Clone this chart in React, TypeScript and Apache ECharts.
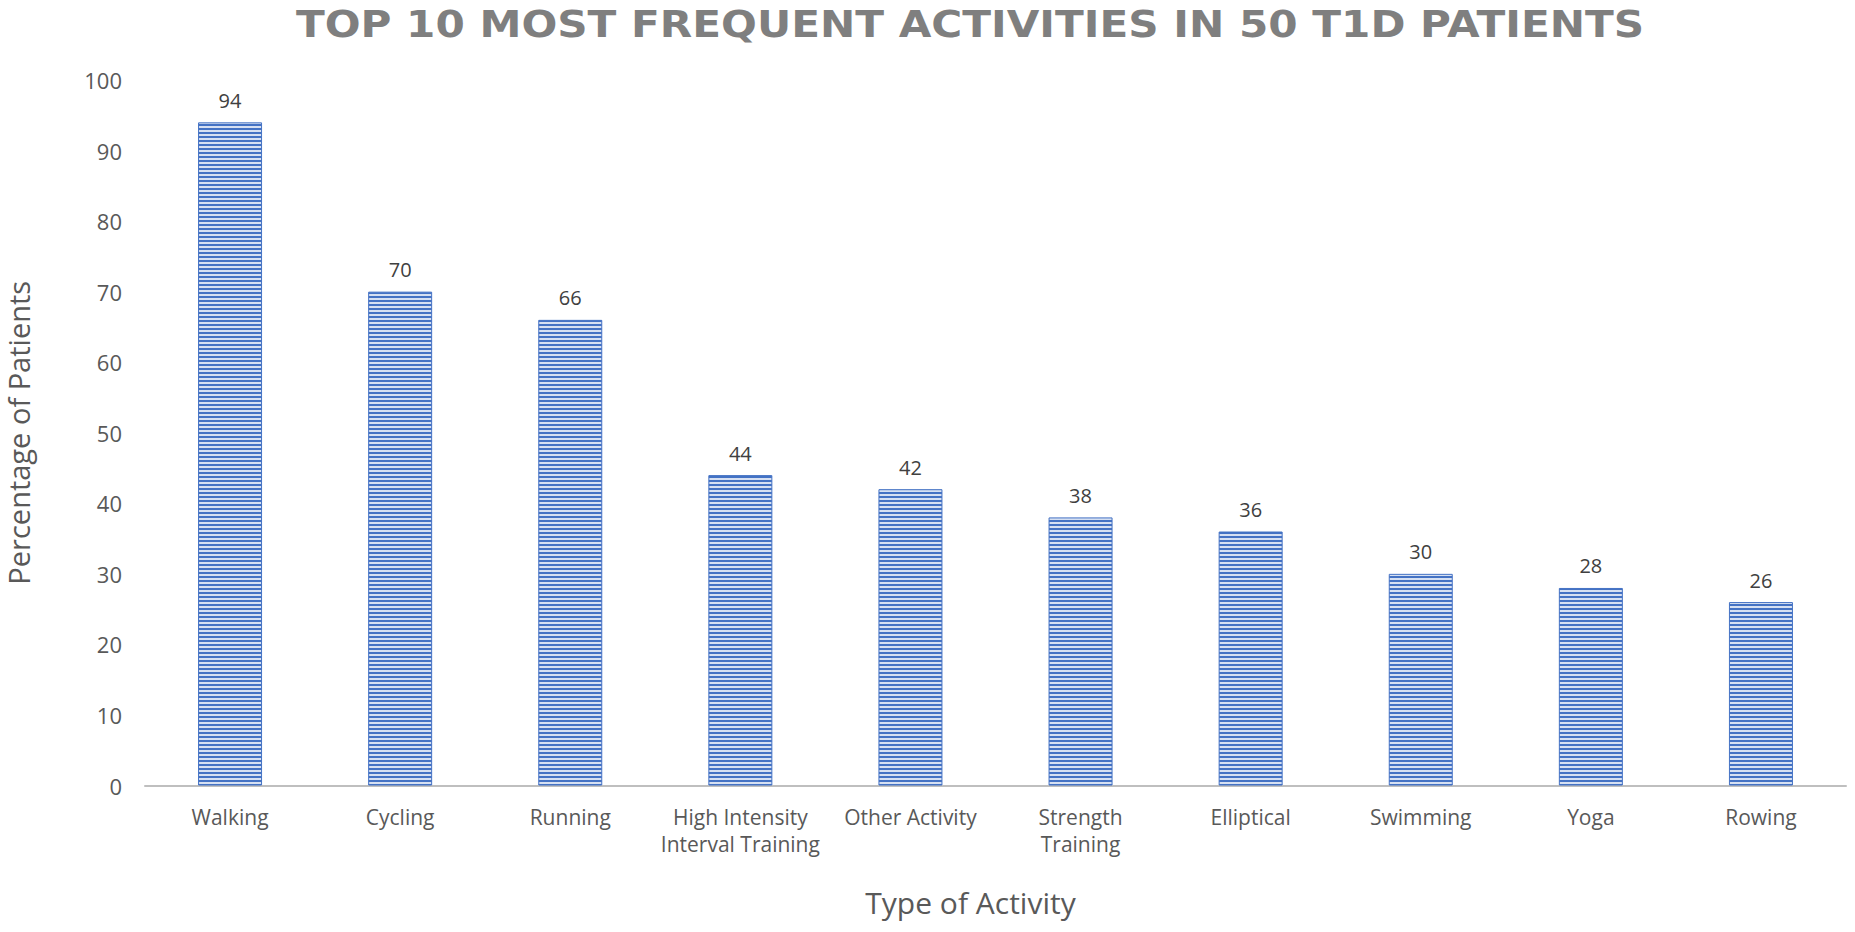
import React, { useEffect, useRef } from "react";
import * as echarts from "echarts";

const titleText = "TOP 10 MOST FREQUENT ACTIVITIES IN 50 T1D PATIENTS";
const xAxisTitle = "Type of Activity";
const yAxisTitle = "Percentage of Patients";

const categories = [
  "Walking",
  "Cycling",
  "Running",
  "High Intensity\nInterval Training",
  "Other Activity",
  "Strength\nTraining",
  "Elliptical",
  "Swimming",
  "Yoga",
  "Rowing",
];
const percentages = [94, 70, 66, 44, 42, 38, 36, 30, 28, 26];

const yMin = 0;
const yMax = 100;
const yStep = 10;

function makeStripes(): HTMLCanvasElement {
  const c = document.createElement("canvas");
  c.width = 8;
  c.height = 4;
  const ctx = c.getContext("2d")!;
  ctx.fillStyle = "#d6e0f2";
  ctx.fillRect(0, 0, 8, 4);
  ctx.fillStyle = "#4472c4";
  ctx.fillRect(0, 0, 8, 2);
  return c;
}

export default function App() {
  const ref = useRef<HTMLDivElement>(null);

  useEffect(() => {
    document.body.style.margin = "0";
    const chart = echarts.init(ref.current!, null, { renderer: "svg" });
    const stripes = makeStripes();
    chart.setOption({
      animation: false,
      backgroundColor: "#ffffff",
      graphic: [
        {
          type: "text",
          x: 970,
          y: 24,
          scaleX: 1.14,
          style: {
            text: titleText,
            align: "center",
            verticalAlign: "middle",
            fontFamily: "DejaVu Sans",
            fontWeight: "bold",
            fontSize: 37,
            fill: "#7f7f7f",
          },
        },
      ],
      grid: {
        left: 145,
        right: 9,
        top: 80,
        bottom: 146.5,
        containLabel: false,
        outerBoundsMode: "none",
      },
      xAxis: {
        type: "category",
        data: categories,
        axisTick: { show: false },
        axisLine: { lineStyle: { color: "#bfbfbf", width: 2 } },
        axisLabel: {
          interval: 0,
          margin: 18,
          fontFamily: "Open Sans",
          fontSize: 21,
          lineHeight: 27,
          color: "#595959",
        },
        name: xAxisTitle,
        nameLocation: "middle",
        nameGap: 102,
        nameTextStyle: {
          fontFamily: "Open Sans",
          fontSize: 30,
          color: "#595959",
          padding: [0, 50, 0, 0],
        },
      },
      yAxis: {
        type: "value",
        min: yMin,
        max: yMax,
        interval: yStep,
        splitLine: { show: false },
        axisLine: { show: false },
        axisTick: { show: false },
        axisLabel: {
          margin: 23,
          fontFamily: "Open Sans",
          fontSize: 22,
          color: "#595959",
        },
        name: yAxisTitle,
        nameLocation: "middle",
        nameGap: 112,
        nameTextStyle: {
          fontFamily: "Open Sans",
          fontSize: 29,
          color: "#595959",
        },
      },
      series: [
        {
          type: "bar",
          data: percentages,
          barWidth: 64,
          itemStyle: {
            color: { image: stripes, repeat: "repeat" },
            borderColor: "#4472c4",
            borderWidth: 1,
          },
          label: {
            show: true,
            position: "top",
            distance: 12,
            fontFamily: "Open Sans",
            fontSize: 20,
            color: "#404040",
          },
        },
      ],
    });
    return () => chart.dispose();
  }, []);

  return (
    <div
      ref={ref}
      style={{ position: "fixed", left: 0, top: 0, width: 1855, height: 932 }}
    />
  );
}
